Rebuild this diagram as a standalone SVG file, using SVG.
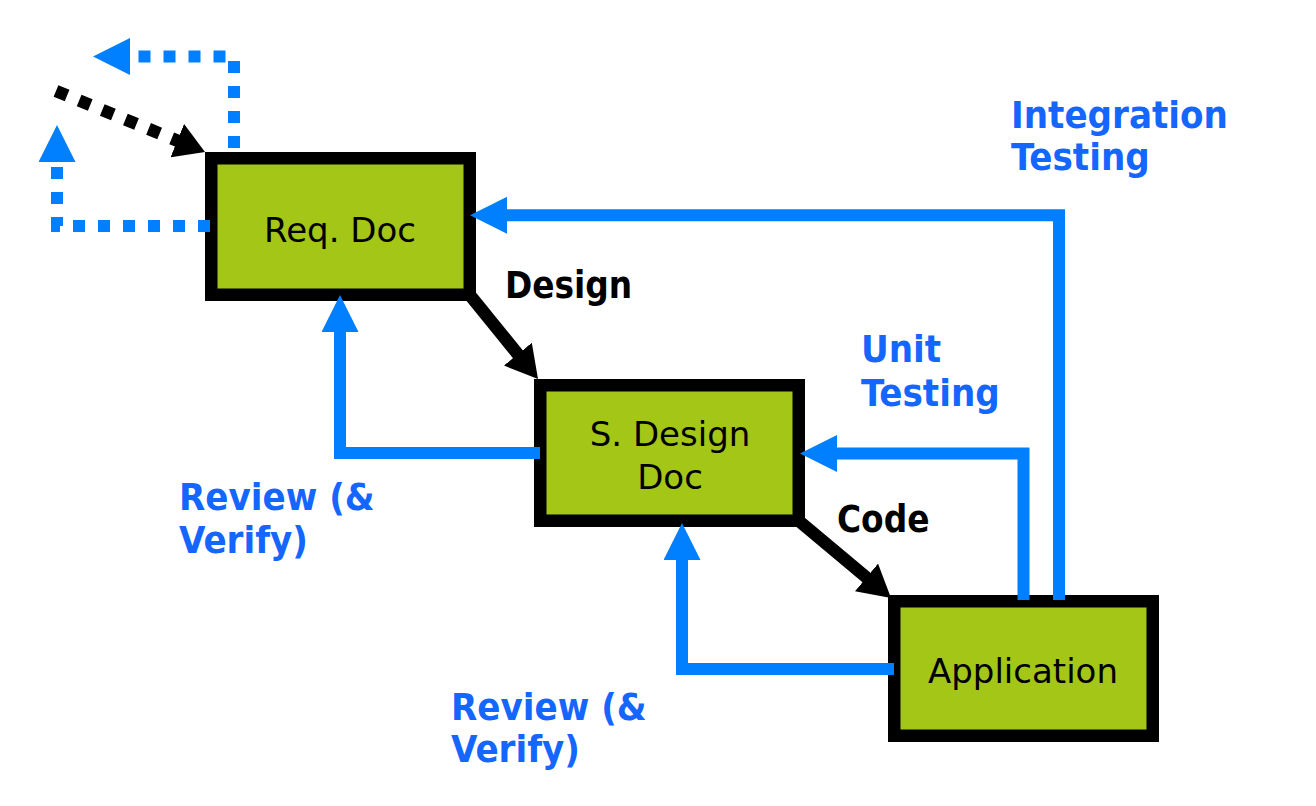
<svg xmlns="http://www.w3.org/2000/svg" width="1316" height="806" viewBox="0 0 1316 806">
  <style>
    .box { fill: #a3c617; stroke: #000; stroke-width: 12.5; }
    .ntext { font-family: 'DejaVu Sans', Verdana, sans-serif; font-size: 34px; fill: #000; text-anchor: middle; }
    .lbl { font-family: 'DejaVu Sans Condensed', 'DejaVu Sans', sans-serif; font-weight: bold; }
    .lblk { font-size: 36.5px; fill: #000; }
    .lblb { font-size: 38px; fill: #1466ff; }
    .blue { fill: none; stroke: #0080ff; stroke-width: 12; stroke-linejoin: miter; }
    .black { fill: none; stroke: #000; stroke-width: 12.5; }
    .dash { stroke-dasharray: 12 13; }
  </style>
  <defs>
    <marker id="ahBlue" viewBox="0 0 37 37" markerWidth="37" markerHeight="37" refX="2" refY="18.5" orient="auto" markerUnits="userSpaceOnUse">
      <path d="M0,0 L37,18.5 L0,37 z" fill="#0080ff"/>
    </marker>
    <marker id="ahBlack" viewBox="0 0 32 36" markerWidth="32" markerHeight="36" refX="2" refY="18" orient="auto" markerUnits="userSpaceOnUse">
      <path d="M0,0 L32,18 L0,36 z" fill="#000"/>
    </marker>
    <marker id="ahBlackDot" viewBox="0 0 30 36" markerWidth="30" markerHeight="36" refX="2" refY="18" orient="auto" markerUnits="userSpaceOnUse">
      <path d="M0,0 L30,18 L0,36 z" fill="#000"/>
    </marker>
  </defs>
  <rect width="1316" height="806" fill="#fff"/>

  <g id="req-doc">
    <rect class="box" x="211.25" y="158.25" width="258.5" height="136.5"/>
    <text class="ntext" x="340" y="242">Req. Doc</text>
  </g>
  <g id="s-design-doc">
    <rect class="box" x="540.25" y="385.25" width="258.5" height="135.5"/>
    <text class="ntext" x="670" y="446">S. Design</text>
    <text class="ntext" x="670" y="489">Doc</text>
  </g>
  <g id="application">
    <rect class="box" x="894.25" y="601.25" width="258.5" height="134.5"/>
    <text class="ntext" x="1023" y="683">Application</text>
  </g>

  <g id="connectors">
    <!-- Design -->
    <path class="black" d="M469,294 L519.1,355.7" marker-end="url(#ahBlack)"/>
    <!-- Code -->
    <path class="black" d="M799,521 L868,578.7" marker-end="url(#ahBlack)"/>
    <!-- Review (& Verify) 1 -->
    <path class="blue" d="M540,453 H340 V330" marker-end="url(#ahBlue)"/>
    <!-- Review (& Verify) 2 -->
    <path class="blue" d="M894,669 H682 V558" marker-end="url(#ahBlue)"/>
    <!-- Unit Testing -->
    <path class="blue" d="M1023.5,600 V453.5 H835" marker-end="url(#ahBlue)"/>
    <!-- Integration Testing -->
    <path class="blue" d="M1059,600 V215.3 H505" marker-end="url(#ahBlue)"/>
    <!-- dotted loops -->
    <path class="black dash" d="M56,91 L179.1,141.4" marker-end="url(#ahBlackDot)"/>
    <path class="blue dash" d="M234,148 V56.5 H128" marker-end="url(#ahBlue)"/>
    <path class="blue dash" d="M210,226 H57 V160" marker-end="url(#ahBlue)"/>
  </g>

  <g id="labels">
    <text class="lbl lblk" x="505" y="298">Design</text>
    <text class="lbl lblk" x="837" y="532">Code</text>
    <text class="lbl lblb" x="861" y="362">Unit</text>
    <text class="lbl lblb" x="861" y="406">Testing</text>
    <text class="lbl lblb" x="1011" y="128">Integration</text>
    <text class="lbl lblb" x="1011" y="170">Testing</text>
    <text class="lbl lblb" x="179" y="510">Review (&amp;</text>
    <text class="lbl lblb" x="179" y="553">Verify)</text>
    <text class="lbl lblb" x="451" y="720">Review (&amp;</text>
    <text class="lbl lblb" x="451" y="762">Verify)</text>
  </g>
</svg>
